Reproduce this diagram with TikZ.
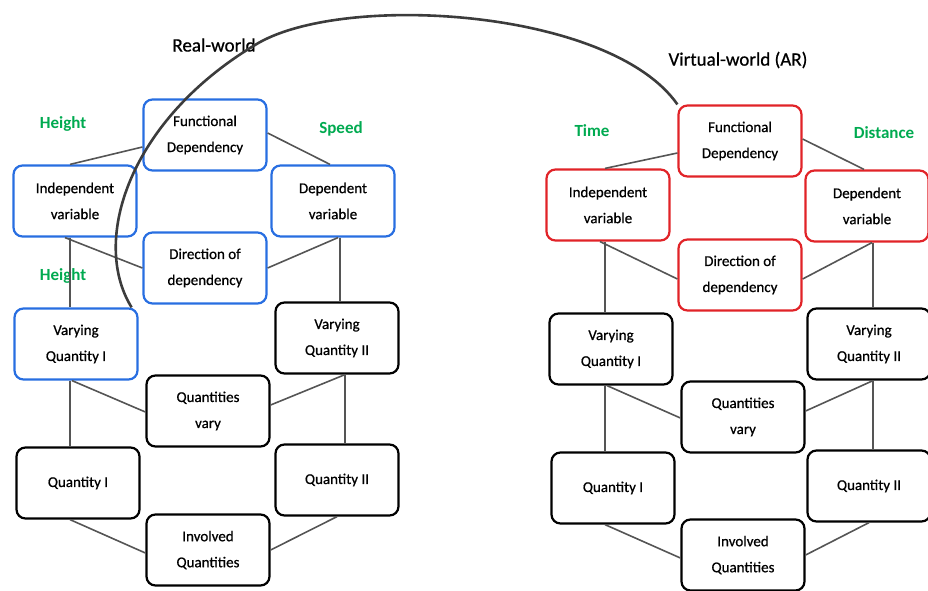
\documentclass[tikz,border=0pt]{standalone}
\usepackage{fontspec}
\setmainfont{Carlito}
\newfontfamily\boxfont{Carlito}[FakeBold=0.7]
\definecolor{boxblue}{RGB}{40,110,225}
\definecolor{boxred}{RGB}{225,35,40}
\definecolor{lblgreen}{RGB}{0,170,80}
\definecolor{linegray}{RGB}{85,85,85}
\definecolor{arcgray}{RGB}{60,60,60}
\tikzset{
  cbox/.style={draw, line width=2.2pt, rounded corners=9pt, minimum width=123pt,
    minimum height=71pt, align=center, inner sep=2pt,
    font=\boxfont\fontsize{15}{26}\selectfont},
  bluebox/.style={cbox, draw=boxblue},
  redbox/.style={cbox, draw=boxred},
  blackbox/.style={cbox, draw=black},
  conn/.style={draw=linegray, line width=1.6pt},
  varlabel/.style={text=lblgreen, font=\fontsize{17}{19}\selectfont\bfseries},
  worldlabel/.style={font=\boxfont\fontsize{19}{21}\selectfont}
}
\begin{document}
\begin{tikzpicture}[x=1pt,y=-1pt]
\useasboundingbox (0,0) rectangle (928,590);

% ---- real-world hexagon cube ----
\node[bluebox]  (fdL)  at (205,135) {Functional\\Dependency};
\node[bluebox]  (ivL)  at (75,201)  {Independent\\variable};
\node[bluebox]  (dvL)  at (333,201) {Dependent\\variable};
\node[bluebox]  (ddL)  at (205,268) {Direction of\\dependency};
\node[bluebox]  (vq1L) at (76,344)  {Varying\\Quantity I};
\node[blackbox] (vq2L) at (337,338) {Varying\\Quantity II};
\node[blackbox] (qvL)  at (208,411) {Quantities\\vary};
\node[blackbox] (q1L)  at (78,483)  {Quantity I};
\node[blackbox] (q2L)  at (337,480) {Quantity II};
\node[blackbox] (iqL)  at (208,550) {Involved\\Quantities};

% ---- virtual-world hexagon cube ----
\node[redbox]   (fdR)  at (740,141) {Functional\\Dependency};
\node[redbox]   (ivR)  at (608,205) {Independent\\variable};
\node[redbox]   (dvR)  at (867,206) {Dependent\\variable};
\node[redbox]   (ddR)  at (740,275) {Direction of\\dependency};
\node[blackbox] (vq1R) at (611,349) {Varying\\Quantity I};
\node[blackbox] (vq2R) at (869,344) {Varying\\Quantity II};
\node[blackbox] (qvR)  at (743,417) {Quantities\\vary};
\node[blackbox] (q1R)  at (613,488) {Quantity I};
\node[blackbox] (q2R)  at (869,486) {Quantity II};
\node[blackbox] (iqR)  at (743,555) {Involved\\Quantities};

% ---- variable labels ----
\node[varlabel] (hL1) at (63,124)  {Height};
\node[varlabel] (sL)  at (341,129) {Speed};
\node[varlabel] (hL2) at (63,276)  {Height};
\node[varlabel] (tR)  at (592,131) {Time};
\node[varlabel] (dR)  at (884,133) {Distance};
\node[worldlabel] (rw) at (214,45) {Real-world};
\node[worldlabel] (vw) at (738,60) {Virtual-world (AR)};

% ---- connectors, left ----
\draw[conn] ([xshift=-5pt]ivL.north) -- ([yshift=-12pt]fdL.west);
\draw[conn] ([yshift=2pt]fdL.east) -- ([xshift=-3pt]dvL.north);
\draw[conn] ([xshift=-10pt]ivL.south) -- (ddL.west);
\draw[conn] (ddL.east) -- ([xshift=5pt]dvL.south);
\draw[conn] ([xshift=-5pt]ivL.south) -- ([xshift=-5pt]ivL.south |- vq1L.north);
\draw[conn] ([xshift=7pt]dvL.south) -- ([xshift=7pt]dvL.south |- vq2L.north);
\draw[conn] ([xshift=-4pt]vq1L.south) -- ([yshift=-1pt]qvL.west);
\draw[conn] ([xshift=8pt]vq2L.south) -- ([yshift=6pt]qvL.east);
\draw[conn] ([xshift=-6pt]vq1L.south) -- ([xshift=-6pt]vq1L.south |- q1L.north);
\draw[conn] ([xshift=8pt]vq2L.south) -- ([xshift=8pt]vq2L.south |- q2L.north);
\draw[conn] ([xshift=-8pt]q1L.south) -- ([yshift=-3pt]iqL.west);
\draw[conn] (q2L.south) -- (iqL.east);

% ---- connectors, right ----
\draw[conn] ([xshift=-3pt]ivR.north) -- ([yshift=-12pt]fdR.west);
\draw[conn] ([yshift=2pt]fdR.east) -- ([xshift=-3pt]dvR.north);
\draw[conn] ([xshift=-8pt]ivR.south) -- ([yshift=-4pt]ddR.west);
\draw[conn] ([yshift=-4pt]ddR.east) -- ([xshift=5pt]dvR.south);
\draw[conn] ([xshift=-3pt]ivR.south) -- ([xshift=-3pt]ivR.south |- vq1R.north);
\draw[conn] ([xshift=6pt]dvR.south) -- ([xshift=6pt]dvR.south |- vq2R.north);
\draw[conn] ([xshift=-4pt]vq1R.south) -- ([yshift=-1pt]qvR.west);
\draw[conn] ([xshift=4pt]vq2R.south) -- ([yshift=6pt]qvR.east);
\draw[conn] ([xshift=-6pt]vq1R.south) -- ([xshift=-6pt]vq1R.south |- q1R.north);
\draw[conn] ([xshift=4pt]vq2R.south) -- ([xshift=4pt]vq2R.south |- q2R.north);
\draw[conn] ([xshift=-8pt]q1R.south) -- ([yshift=-3pt]iqR.west);
\draw[conn] (q2R.south) -- (iqR.east);

% ---- arc linking the two worlds ----
\coordinate (arcS) at ([xshift=-7pt]vq1L.north east);
\coordinate (arcM) at (255,45);
\draw[draw=arcgray, line width=2.6pt]
  (arcS) .. controls (90,240) and (130,120) .. (arcM)
         .. controls (340,-8) and (610,8) .. (fdR.north west);
\end{tikzpicture}
\end{document}
